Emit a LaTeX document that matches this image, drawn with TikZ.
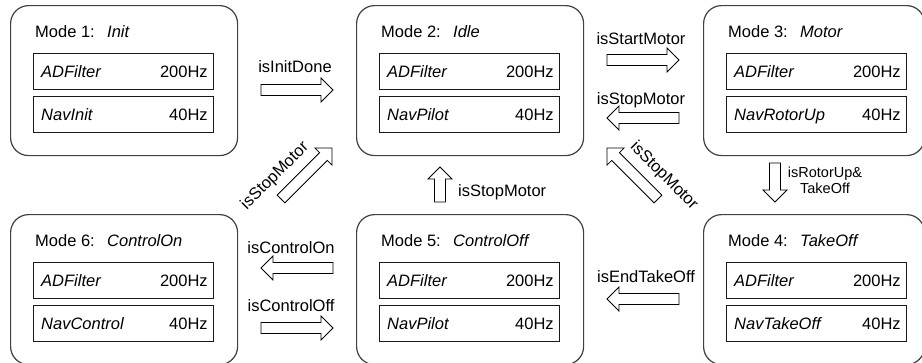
\documentclass[tikz,border=0pt]{standalone}
\usepackage{fontspec}
\setmainfont{Liberation Sans}
\tikzset{
  modebox/.style={draw=black!75, line width=1.2pt, rounded corners=18pt, minimum width=227pt, minimum height=150pt, inner sep=0pt, anchor=north west},
  cellbox/.style={draw=black!90, line width=0.9pt, minimum width=180pt, minimum height=36pt, inner sep=0pt, anchor=north west},
  lbl/.style={inner sep=0pt, anchor=base west},
  rlbl/.style={inner sep=0pt, anchor=base east},
  tlbl/.style={inner sep=0pt, anchor=base},
  arrowline/.style={draw=black, line width=0.8pt, fill=white, line join=miter},
  pics/barrow/.style={code={\draw[arrowline] (0,-5.5) -- (#1-12,-5.5) -- (#1-12,-12) -- (#1,0) -- (#1-12,12) -- (#1-12,5.5) -- (0,5.5) -- cycle;}}
}
\newcommand\mymode[6]{%
  \node[modebox,#6] (#1) at #2 {};
  \node[lbl] (#1t) at ([xshift=25pt,yshift=-32pt]#1.north west) {Mode #3:};
  \node[lbl] (#1n) at ([xshift=97pt,yshift=-32pt]#1.north west) {\textit{#4}};
  \node[cellbox] (#1a) at ([xshift=23pt,yshift=-48pt]#1.north west) {};
  \node[cellbox] (#1b) at ([xshift=23pt,yshift=-91pt]#1.north west) {};
  \node[lbl] (#1al) at ([xshift=8pt,yshift=-6pt]#1a.west) {\textit{ADFilter}};
  \node[rlbl] (#1ar) at ([xshift=-6pt,yshift=-6pt]#1a.east) {200Hz};
  \node[lbl] (#1bl) at ([xshift=8pt,yshift=-6pt]#1b.west) {\textit{#5}};
  \node[rlbl] (#1br) at ([xshift=-6pt,yshift=-6pt]#1b.east) {40Hz};
}
\begin{document}
\begin{tikzpicture}[x=1pt,y=-1pt, font=\fontsize{16.5}{19}\selectfont]
\useasboundingbox (0,0) rectangle (922,362);
\clip (0,0) rectangle (922,362);
\fill[white] (0,0) rectangle (922,362);

\mymode{m1}{(10,5)}{1}{Init}{NavInit}{}
\mymode{m2}{(356,5)}{2}{Idle}{NavPilot}{}
\mymode{m3}{(703,5)}{3}{Motor}{NavRotorUp}{minimum width=221pt}
\mymode{m6}{(10,214)}{6}{ControlOn}{NavControl}{}
\mymode{m5}{(356,214)}{5}{ControlOff}{NavPilot}{}
\mymode{m4}{(703,214)}{4}{TakeOff}{NavTakeOff}{minimum width=221pt}

% block arrows
\pic (a12) at (261,90) {barrow=72};
\pic (a23) at (607,60) {barrow=72};
\pic[rotate=180] (a32) at (679,118) {barrow=72};
\pic[rotate=-90] (a34) at (775,163) {barrow=39};
\pic[rotate=180] (a45) at (679,299) {barrow=72};
\pic[rotate=90] (a52) at (440,202) {barrow=35};
\pic[rotate=180] (a56) at (333,268) {barrow=72};
\pic (a65) at (261,328) {barrow=72};
\pic[rotate=45] (a62) at (281,199) {barrow=72};
\pic[rotate=135] (a42) at (658,199) {barrow=72};

% labels
\node[tlbl] (l12) at (295,72) {isInitDone};
\node[tlbl] (l23) at (641,44) {isStartMotor};
\node[tlbl] (l32) at (641,104) {isStopMotor};
\node[inner sep=0pt, align=center, font=\fontsize{14.5}{16}\selectfont] (l34) at (825,180) {isRotorUp\&\\TakeOff};
\node[tlbl] (l45) at (646,282) {isEndTakeOff};
\node[lbl] (l52) at (458,196) {isStopMotor};
\node[tlbl] (l56) at (291,253) {isControlOn};
\node[tlbl] (l65) at (291,311) {isControlOff};
\node[inner sep=0pt, rotate=45] (l62) at (275,176) {isStopMotor};
\node[inner sep=0pt, rotate=-45] (l42) at (664,176) {isStopMotor};
\end{tikzpicture}
\end{document}
